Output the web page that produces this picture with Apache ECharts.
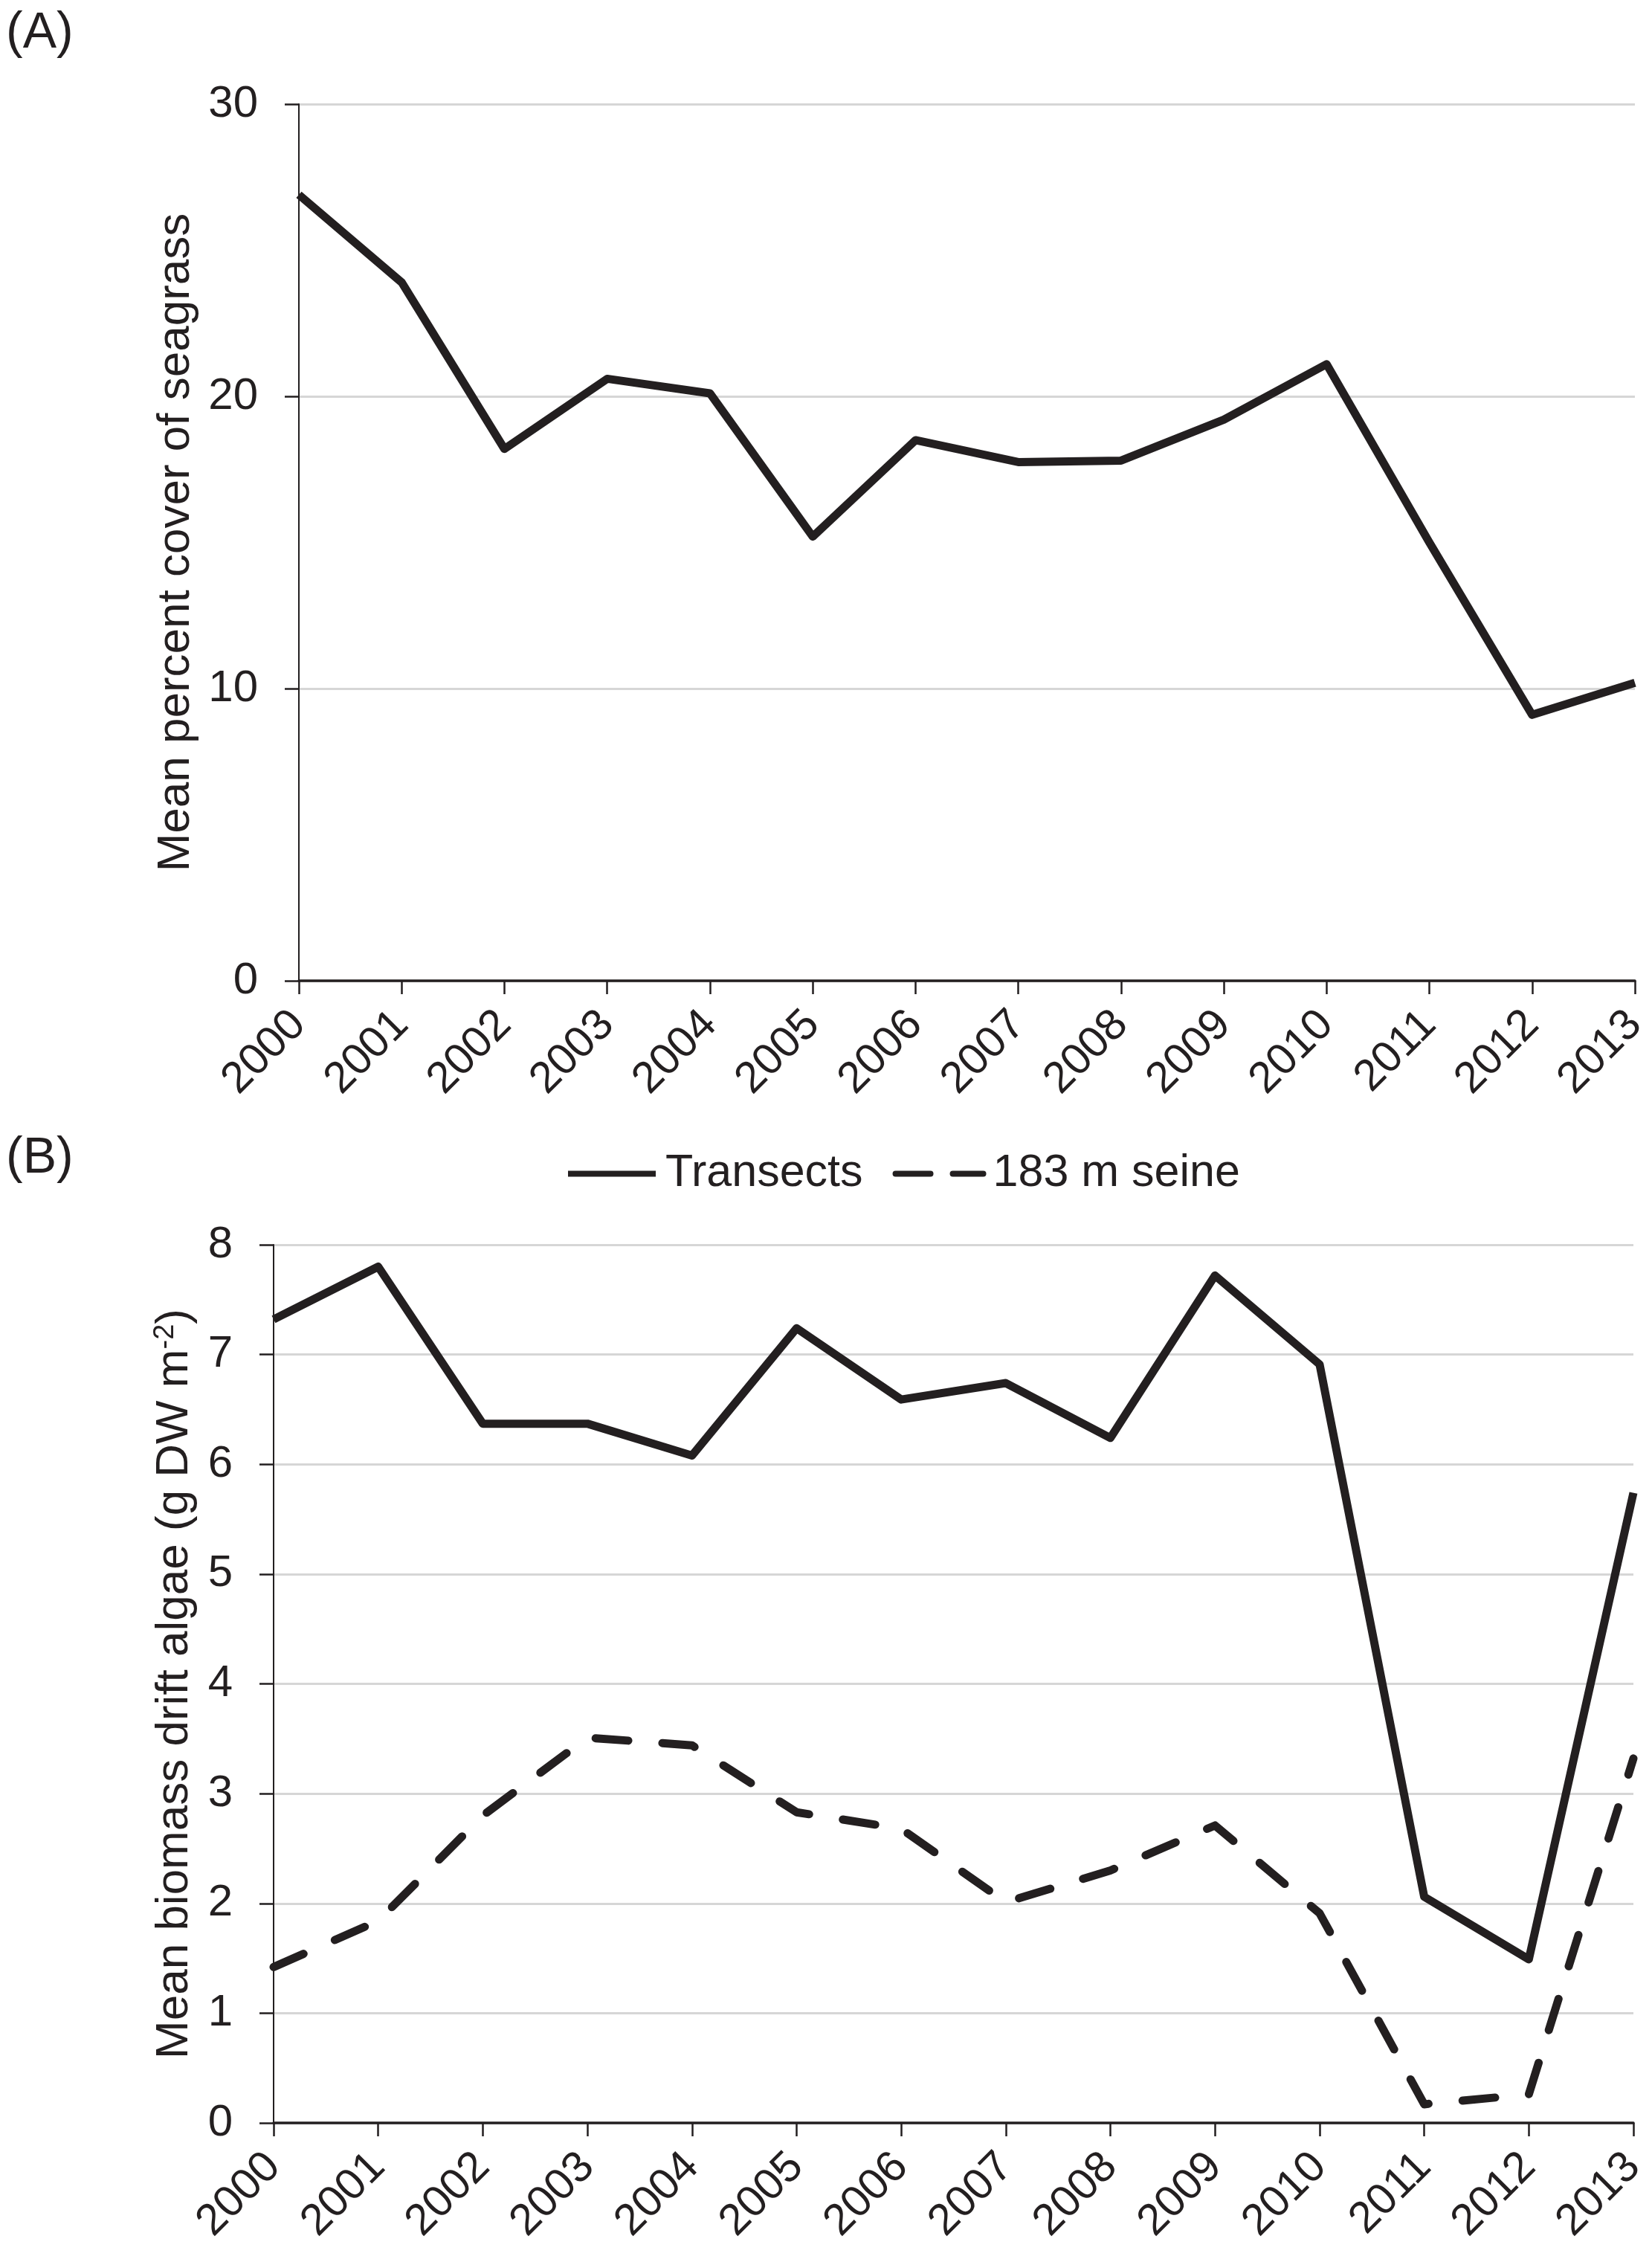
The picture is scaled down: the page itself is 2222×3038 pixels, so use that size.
<!DOCTYPE html>
<html>
<head>
<meta charset="utf-8">
<style>
html,body{margin:0;padding:0;background:#fff;}
#chart{width:2222px;height:3038px;}
</style>
<script src="https://cdn.jsdelivr.net/npm/echarts@6/dist/echarts.min.js"></script>
</head>
<body>
<div id="chart"></div>
<script>
const years = ['2000','2001','2002','2003','2004','2005','2006','2007','2008','2009','2010','2011','2012','2013'];
const seagrassCover = [26.9, 23.9, 18.2, 20.6, 20.1, 15.2, 18.5, 17.75, 17.8, 19.2, 21.1, 15.0, 9.1, 10.2];
const transects = [7.32, 7.80, 6.37, 6.37, 6.08, 7.24, 6.59, 6.74, 6.24, 7.72, 6.91, 2.06, 1.49, 5.74];
const seine = [1.42, 1.84, 2.80, 3.51, 3.44, 2.83, 2.68, 2.01, 2.30, 2.71, 1.91, 0.17, 0.26, 3.32];
const seriesNames = ['Transects', '183 m seine'];

const INK = '#231f20';
const FONT = 'Liberation Sans, Arial, sans-serif';
const GRID_COLOR = '#d6d6d6';
const CLEAR = 'rgba(0,0,0,0)';

function xAxisCfg(gridIndex) {
  return {
    type: 'category', gridIndex: gridIndex, data: years, boundaryGap: false,
    axisLine: { show: true, lineStyle: { color: INK, width: 3.5 } },
    axisTick: { show: true, length: 18, lineStyle: { color: INK, width: 2.5 } },
    axisLabel: { rotate: 45, fontSize: 59, color: INK, fontFamily: FONT, margin: 50, interval: 0 },
    splitLine: { show: false }
  };
}
function yAxisCfg(gridIndex, max, interval, name, gap, rich) {
  const cfg = {
    type: 'value', gridIndex: gridIndex, min: 0, max: max, interval: interval,
    axisLine: { show: true, lineStyle: { color: INK, width: 2 } },
    axisTick: { show: true, length: 19, lineStyle: { color: INK, width: 2.5 } },
    axisLabel: { fontSize: 60, color: INK, fontFamily: FONT, margin: 55 },
    splitLine: { show: true, lineStyle: { color: GRID_COLOR, width: 3 } },
    name: name, nameLocation: 'middle', nameGap: gap, nameRotate: 90,
    nameTextStyle: { fontSize: 62, color: INK, fontFamily: FONT }
  };
  if (rich) cfg.nameTextStyle.rich = rich;
  return cfg;
}

const chart = echarts.init(document.getElementById('chart'), null, { renderer: 'canvas' });
chart.setOption({
  backgroundColor: '#ffffff',
  animation: false,
  title: [
    { text: '(A)', left: 8, top: 11, padding: 0, textStyle: { fontSize: 68, fontWeight: 'normal', color: INK, fontFamily: FONT } },
    { text: '(B)', left: 8, top: 1524, padding: 0, textStyle: { fontSize: 68, fontWeight: 'normal', color: INK, fontFamily: FONT } }
  ],
  legend: {
    left: 760, top: 1548, padding: 0, itemGap: 40, itemWidth: 118, itemHeight: 12,
    lineStyle: { width: 8 },
    itemStyle: { color: CLEAR, borderColor: CLEAR, borderWidth: 0, opacity: 0 },
    textStyle: { fontSize: 61, color: INK, fontFamily: FONT, padding: [0, 0, 0, 8] },
    data: [
      { name: seriesNames[0] },
      { name: seriesNames[1], lineStyle: { type: [47, 30], cap: 'round' } }
    ]
  },
  grid: [
    { left: 402, right: 23, top: 140, height: 1179 },
    { left: 368, right: 25, top: 1674, height: 1181 }
  ],
  xAxis: [xAxisCfg(0), xAxisCfg(1)],
  yAxis: [
    yAxisCfg(0, 30, 10, 'Mean percent cover of seagrass', 134),
    yAxisCfg(1, 8, 1, '{a|Mean biomass drift algae (g DW m}{b|-2}{a|)}', 102, {
      a: { fontSize: 62, color: INK, fontFamily: FONT, lineHeight: 62 },
      b: { fontSize: 38, color: INK, fontFamily: FONT, verticalAlign: 'top', lineHeight: 38 }
    })
  ],
  series: [
    {
      name: 'Seagrass', type: 'line', xAxisIndex: 0, yAxisIndex: 0, data: seagrassCover,
      symbol: 'none', lineStyle: { color: INK, width: 11, join: 'round' }, itemStyle: { color: INK }
    },
    {
      name: seriesNames[0], type: 'line', xAxisIndex: 1, yAxisIndex: 1, data: transects,
      symbol: 'none', lineStyle: { color: INK, width: 11, join: 'round' }, itemStyle: { color: INK }
    },
    {
      name: seriesNames[1], type: 'line', xAxisIndex: 1, yAxisIndex: 1, data: seine,
      symbol: 'none', lineStyle: { color: INK, width: 11, type: [44, 46], cap: 'round', join: 'round' }, itemStyle: { color: INK }
    }
  ]
});
</script>
</body>
</html>
